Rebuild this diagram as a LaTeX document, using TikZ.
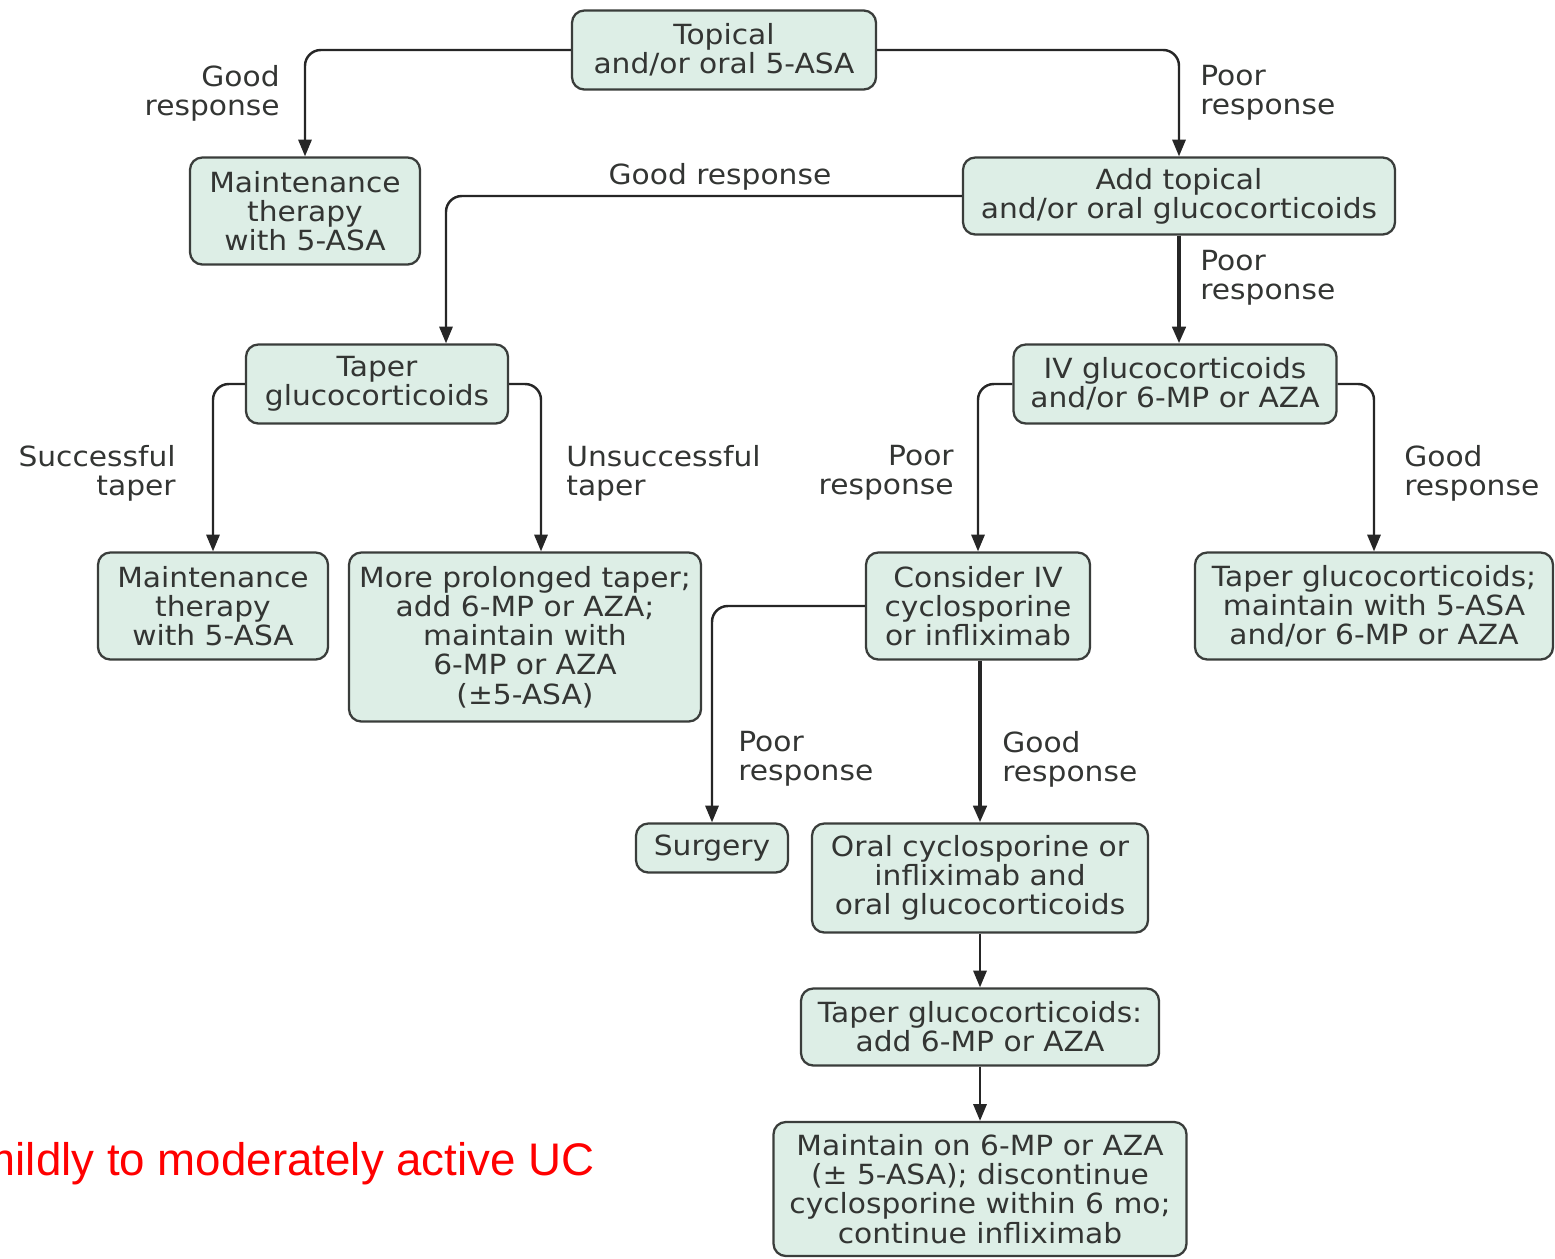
\documentclass[tikz,border=0pt]{standalone}
\usepackage{fontspec}
\setmainfont[FakeStretch=1.07]{DejaVu Sans}
\newfontfamily\redfont{Liberation Sans}
\usetikzlibrary{arrows.meta, positioning}
\newdimen\px \px=0.02cm
\definecolor{boxfill}{HTML}{DDEEE6}
\definecolor{boxline}{HTML}{3A3D3B}
\definecolor{inkgray}{HTML}{333533}
\definecolor{lineink}{HTML}{262626}
\tikzset{x=0.02cm, y=-0.02cm,
         >= {Triangle[length=9.5pt, width=7.5pt]},
         every node/.style = {font=\fontsize{15.8}{16.6}\selectfont, text=inkgray},
         box/.style = {draw=boxline, fill=boxfill, line width=1.3pt,
                       rounded corners=7pt, align=center, inner sep=0pt},
         lbl/.style = {align=left, inner sep=0pt},
         flow/.style = {->, draw=lineink, line width=1.4pt, rounded corners=9pt},
         heavy/.style = {flow, line width=2.2pt}}

\begin{document}
\begin{tikzpicture}
  \useasboundingbox (0,0) rectangle (1555,1258);

  % boxes
  \node[box, minimum width=304\px, minimum height=79\px]  (top)    at (724,50)   {Topical\\and/or oral 5-ASA};
  \node[box, minimum width=230\px, minimum height=107\px] (maintA) at (305,211)  {Maintenance\\therapy\\with 5-ASA};
  \node[box, minimum width=432\px, minimum height=77\px]  (add)    at (1179,196) {Add topical\\and/or oral glucocorticoids};
  \node[box, minimum width=262\px, minimum height=79\px]  (taper)  at (377,384)  {Taper\\glucocorticoids};
  \node[box, minimum width=323\px, minimum height=79\px]  (iv)     at (1175,384) {IV glucocorticoids\\and/or 6-MP or AZA};
  \node[box, minimum width=230\px, minimum height=107\px] (maintB) at (213,606)  {Maintenance\\therapy\\with 5-ASA};
  \node[box, minimum width=352\px, minimum height=169\px] (prolong) at (525,637) {More prolonged taper;\\add 6-MP or AZA;\\maintain with\\6-MP or AZA\\(\textpm5-ASA)};
  \node[box, minimum width=224\px, minimum height=107\px] (consider) at (978,606) {Consider IV\\cyclosporine\\or infliximab};
  \node[box, minimum width=358\px, minimum height=107\px] (tapmaint) at (1374,606) {Taper glucocorticoids;\\maintain with 5-ASA\\and/or 6-MP or AZA};
  \node[box, minimum width=152\px, minimum height=49\px]  (surgery) at (712,848)  {Surgery};
  \node[box, minimum width=336\px, minimum height=109\px] (oral)    at (980,878)  {Oral cyclosporine or\\infliximab and\\oral glucocorticoids};
  \node[box, minimum width=358\px, minimum height=77\px]  (tapadd)  at (980,1027) {Taper glucocorticoids:\\add 6-MP or AZA};
  \node[box, minimum width=413\px, minimum height=134\px] (maintain) at (980,1189) {Maintain on 6-MP or AZA\\(\textpm{} 5-ASA); discontinue\\cyclosporine within 6 mo;\\continue infliximab};

  % connectors
  \draw[flow] (top.west) -| (maintA.north);
  \draw[flow] (top.east) -| (add.north);
  \draw[flow] (add.west) -| ([xshift=69\px]taper.north);
  \draw[heavy] (add.south) -- (add.south |- iv.north);
  \draw[flow] (taper.west) -| (maintB.north);
  \draw[flow] (taper.east) -| ([xshift=16\px]prolong.north);
  \draw[flow] (iv.west) -| (consider.north);
  \draw[flow] (iv.east) -| (tapmaint.north);
  \draw[flow] (consider.west) -| (surgery.north);
  \draw[heavy] (oral.north |- consider.south) -- (oral.north);
  \draw[flow] (oral.south) -- (tapadd.north);
  \draw[flow] (tapadd.south) -- (maintain.north);

  % labels
  \node[lbl, align=right, anchor=east] (l1)  at (280,93)  {Good\\response};
  \node[lbl, anchor=west]              (l2)  at (1200,93) {Poor\\response};
  \node[lbl, anchor=center]            (l3)  at (720,177) {Good response};
  \node[lbl, anchor=west]              (l4)  at (1200,278) {Poor\\response};
  \node[lbl, align=right, anchor=east] (l5)  at (176,473) {Successful\\taper};
  \node[lbl, anchor=west]              (l6)  at (566,473) {Unsuccessful\\taper};
  \node[lbl, align=right, anchor=east] (l7)  at (954,473) {Poor\\response};
  \node[lbl, anchor=west]              (l8)  at (1404,473) {Good\\response};
  \node[lbl, anchor=west]              (l9)  at (738,759) {Poor\\response};
  \node[lbl, anchor=west]              (l10) at (1002,759) {Good\\response};

  \node[anchor=base east, inner sep=0pt, text=red,
        font=\redfont\fontsize{26}{31}\selectfont] (title) at (595,1175) {mildly to moderately active UC};
\end{tikzpicture}
\end{document}
